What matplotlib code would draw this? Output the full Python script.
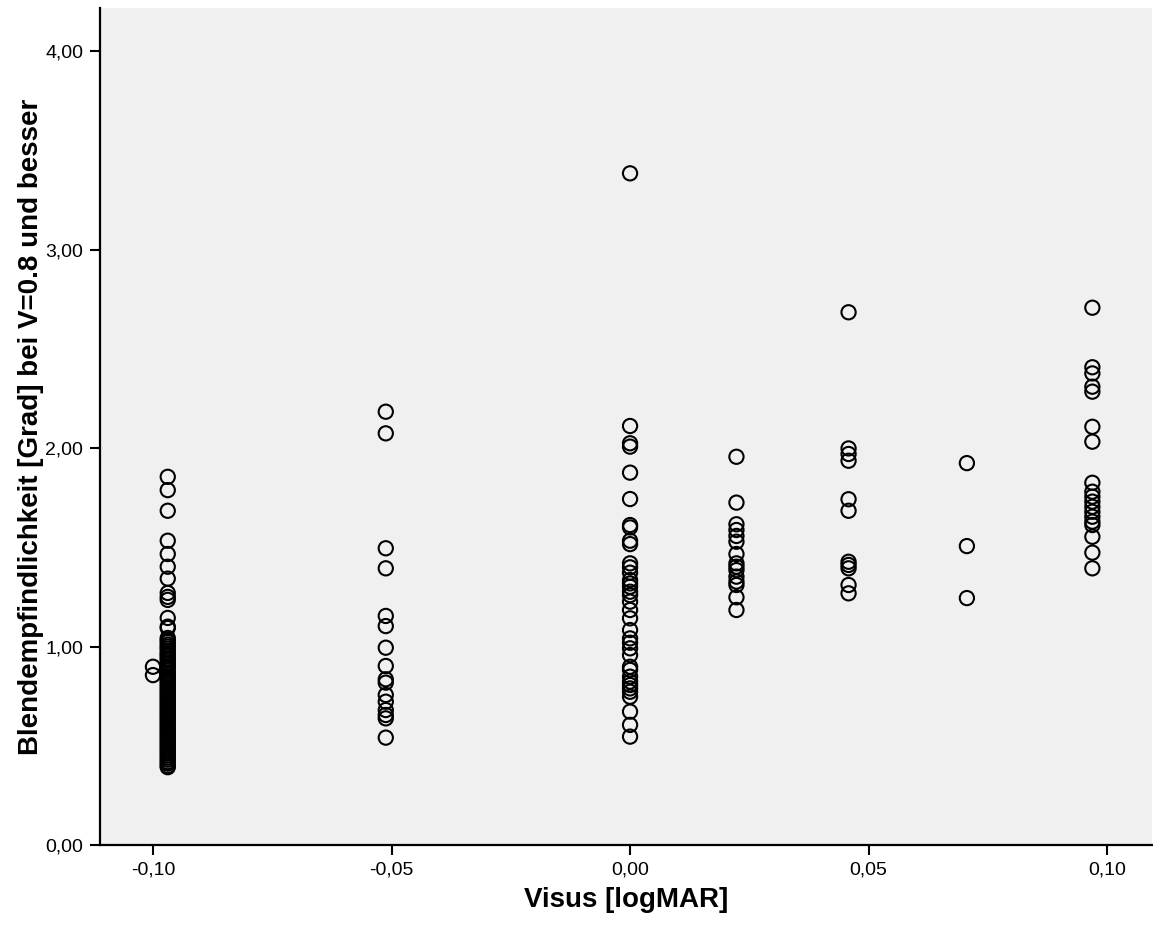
import matplotlib.pyplot as plt
import matplotlib.ticker as ticker

plt.rcParams['font.family'] = ['Liberation Sans', 'DejaVu Sans']

# logMAR column positions and the measured values in each column
x_m100 = -0.100
y_m100 = [0.898, 0.856]

x_m097 = -0.0969
y_m097 = [1.855, 1.788, 1.684, 1.533, 1.466, 1.402, 1.342, 1.270, 1.250, 1.235,
          1.144, 1.100, 1.093, 1.043, 1.033, 1.023, 1.010, 1.000, 0.990, 0.980,
          0.967, 0.960, 0.950, 0.940, 0.930, 0.917, 0.910, 0.900, 0.890, 0.880,
          0.866, 0.860, 0.850, 0.840, 0.830, 0.821, 0.810, 0.800, 0.790, 0.780,
          0.771, 0.760, 0.750, 0.740, 0.730, 0.720, 0.710, 0.700, 0.690, 0.680,
          0.670, 0.660, 0.650, 0.640, 0.630, 0.620, 0.610, 0.600, 0.590, 0.580,
          0.570, 0.560, 0.550, 0.540, 0.530, 0.520, 0.510, 0.500, 0.490, 0.480,
          0.470, 0.460, 0.450, 0.440, 0.430, 0.418, 0.410, 0.398, 0.392]

x_m051 = -0.0512
y_m051 = [2.183, 2.074, 1.495, 1.394, 1.154, 1.103, 0.994, 0.902, 0.835, 0.818,
          0.756, 0.722, 0.680, 0.655, 0.638, 0.541]

x_000 = 0.0
y_000 = [3.384, 2.111, 2.024, 2.007, 1.876, 1.743, 1.612, 1.600, 1.533, 1.516,
         1.419, 1.399, 1.372, 1.335, 1.318, 1.301, 1.276, 1.259, 1.226, 1.184,
         1.142, 1.083, 1.041, 1.019, 0.991, 0.957, 0.898, 0.882, 0.848, 0.823,
         0.806, 0.789, 0.772, 0.747, 0.672, 0.605, 0.546]

x_022 = 0.0223
y_022 = [1.956, 1.725, 1.616, 1.587, 1.557, 1.528, 1.466, 1.419, 1.402, 1.385,
         1.352, 1.327, 1.310, 1.248, 1.184]

x_046 = 0.0458
y_046 = [2.684, 1.998, 1.970, 1.936, 1.742, 1.684, 1.427, 1.411, 1.394, 1.310,
         1.268]

x_071 = 0.0706
y_071 = [1.924, 1.506, 1.244]

x_097 = 0.0969
y_097 = [2.707, 2.407, 2.376, 2.309, 2.284, 2.107, 2.032, 1.825, 1.780, 1.755,
         1.730, 1.704, 1.679, 1.654, 1.629, 1.612, 1.553, 1.473, 1.394]

columns = [(x_m100, y_m100), (x_m097, y_m097), (x_m051, y_m051), (x_000, y_000),
           (x_022, y_022), (x_046, y_046), (x_071, y_071), (x_097, y_097)]

x_ticks = [-0.10, -0.05, 0.00, 0.05, 0.10]
y_ticks = [0, 1, 2, 3, 4]

fig = plt.figure(figsize=(11.53, 9.25), dpi=100)
ax = fig.add_axes([100 / 1153, 80 / 925, 1052 / 1153, 837 / 925])
ax.set_facecolor('#F0F0F0')

for xv, ys in columns:
    ax.scatter([xv] * len(ys), ys, s=105, facecolors='none',
               edgecolors='black', linewidths=1.5, zorder=3)

ax.set_xlim(-0.1111, 0.1094)
ax.set_ylim(0, 4.217)
ax.set_xticks(x_ticks)
ax.set_yticks(y_ticks)
comma = ticker.FuncFormatter(lambda v, p: f'{v:.2f}'.replace('.', ','))
ax.xaxis.set_major_formatter(comma)
ax.yaxis.set_major_formatter(comma)
ax.tick_params(direction='out', length=7, width=1.5, labelsize=14, pad=5)

ax.spines['top'].set_visible(False)
ax.spines['right'].set_visible(False)
ax.spines['left'].set_linewidth(1.6)
ax.spines['bottom'].set_linewidth(1.6)

ax.set_xlabel('Visus [logMAR]', fontsize=20, fontweight='bold', labelpad=6)
ax.set_ylabel('Blendempfindlichkeit [Grad] bei V=0.8 und besser',
              fontsize=20, fontweight='bold', labelpad=1)

fig.savefig('out.png', dpi=100)
plt.close(fig)
